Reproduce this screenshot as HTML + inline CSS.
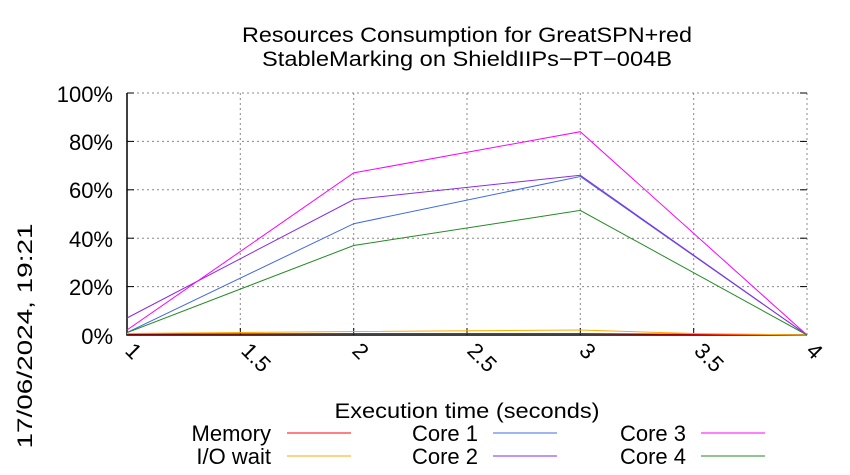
<!DOCTYPE html>
<html><head><style>body{margin:0;background:#fff}svg{display:block}text{font-family:"Liberation Sans",sans-serif;fill:#000}</style></head>
<body>
<svg width="850" height="475" viewBox="0 0 850 475" xmlns="http://www.w3.org/2000/svg">
<g font-size="21" text-anchor="middle">
<text x="467" y="42" textLength="450" lengthAdjust="spacingAndGlyphs">Resources Consumption for GreatSPN+red</text>
<text x="467" y="66" textLength="410" lengthAdjust="spacingAndGlyphs">StableMarking on ShieldIIPs−PT−004B</text>
</g>
<g stroke="#888" stroke-dasharray="2,3" stroke-width="1">
<line x1="127" y1="93" x2="807" y2="93"/><line x1="127" y1="141.4" x2="807" y2="141.4"/><line x1="127" y1="189.8" x2="807" y2="189.8"/><line x1="127" y1="238.2" x2="807" y2="238.2"/><line x1="127" y1="286.6" x2="807" y2="286.6"/>
<line x1="240.3" y1="93" x2="240.3" y2="335"/><line x1="353.7" y1="93" x2="353.7" y2="335"/><line x1="467" y1="93" x2="467" y2="335"/><line x1="580.3" y1="93" x2="580.3" y2="335"/><line x1="693.7" y1="93" x2="693.7" y2="335"/><line x1="807" y1="93" x2="807" y2="335"/>
</g>
<g stroke="#000" stroke-width="1.5" fill="none">
<polyline points="127,93 127,335 807,335"/>
</g>
<g stroke="#000" stroke-width="1">
<line x1="127" y1="93" x2="134" y2="93"/><line x1="127" y1="141.4" x2="134" y2="141.4"/><line x1="127" y1="189.8" x2="134" y2="189.8"/><line x1="127" y1="238.2" x2="134" y2="238.2"/><line x1="127" y1="286.6" x2="134" y2="286.6"/>
<line x1="240.3" y1="335" x2="240.3" y2="328"/><line x1="353.7" y1="335" x2="353.7" y2="328"/><line x1="467" y1="335" x2="467" y2="328"/><line x1="580.3" y1="335" x2="580.3" y2="328"/><line x1="693.7" y1="335" x2="693.7" y2="328"/>
<line x1="800" y1="93" x2="807" y2="93"/><line x1="800" y1="141.4" x2="807" y2="141.4"/><line x1="800" y1="189.8" x2="807" y2="189.8"/><line x1="800" y1="238.2" x2="807" y2="238.2"/><line x1="800" y1="286.6" x2="807" y2="286.6"/>
</g>
<g font-size="22" text-anchor="end">
<text x="113" y="102">100%</text><text x="113" y="150">80%</text><text x="113" y="198">60%</text><text x="113" y="247">40%</text><text x="113" y="295">20%</text><text x="113" y="344">0%</text>
</g>
<g font-size="22">
<text transform="translate(124,352) rotate(45)">1</text>
<text transform="translate(240,352) rotate(45)">1.5</text>
<text transform="translate(351,352) rotate(45)">2</text>
<text transform="translate(466,352) rotate(45)">2.5</text>
<text transform="translate(578,352) rotate(45)">3</text>
<text transform="translate(693,352) rotate(45)">3.5</text>
<text transform="translate(805,352) rotate(45)">4</text>
</g>
<text x="467" y="418" font-size="21" text-anchor="middle" textLength="265" lengthAdjust="spacingAndGlyphs">Execution time (seconds)</text>
<text transform="translate(32,336) rotate(-90)" font-size="21" text-anchor="middle" textLength="225" lengthAdjust="spacingAndGlyphs">17/06/2024, 19:21</text>
<g fill="none" stroke-width="1">
<polyline stroke="#f00" points="127,334 353.7,333.5 580.3,333.5 807,335"/>
<polyline stroke="#fa0" points="127,333.5 353.7,331.5 580.3,330 693.7,333.5 807,335"/>
<polyline stroke="#4169e1" points="127,332.6 353.7,223.7 580.3,176.5 807,335"/>
<polyline stroke="#8a2be2" points="127,318 353.7,199.5 580.3,175.3 807,335"/>
<polyline stroke="#f0f" points="127,330 353.7,172.9 580.3,131.7 807,335"/>
<polyline stroke="#228b22" points="127,332.6 353.7,245.5 580.3,210.4 807,335"/>
</g>
<g font-size="22" text-anchor="end">
<text x="271" y="441">Memory</text><text x="271" y="464">I/O wait</text>
<text x="478" y="441">Core 1</text><text x="478" y="464">Core 2</text>
<text x="686" y="441">Core 3</text><text x="686" y="464">Core 4</text>
</g>
<g stroke-width="1">
<line x1="287" y1="433" x2="351" y2="433" stroke="#f00"/><line x1="287" y1="456" x2="351" y2="456" stroke="#fa0"/>
<line x1="493" y1="433" x2="557" y2="433" stroke="#4169e1"/><line x1="493" y1="456" x2="557" y2="456" stroke="#8a2be2"/>
<line x1="701" y1="433" x2="765" y2="433" stroke="#f0f"/><line x1="701" y1="456" x2="765" y2="456" stroke="#228b22"/>
</g>
</svg>
</body></html>
